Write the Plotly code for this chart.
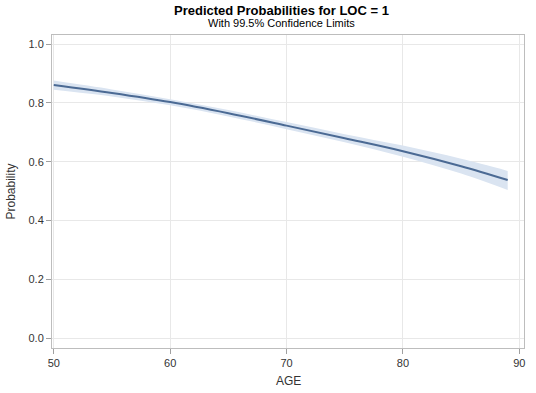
import plotly.graph_objects as go

age = [50, 55, 60, 65, 70, 75, 80, 85, 89]
prob = [0.861, 0.834, 0.803, 0.765, 0.723, 0.680, 0.636, 0.585, 0.538]
upper = [0.876, 0.846, 0.813, 0.776, 0.735, 0.694, 0.655, 0.610, 0.569]
lower = [0.845, 0.822, 0.792, 0.754, 0.711, 0.666, 0.617, 0.560, 0.504]

title_text = "Predicted Probabilities for LOC = 1"
subtitle_text = "With 99.5% Confidence Limits"
x_title = "AGE"
y_title = "Probability"
x_ticks = [50, 60, 70, 80, 90]
y_ticks = [0.0, 0.2, 0.4, 0.6, 0.8, 1.0]

fig = go.Figure()
fig.add_trace(go.Scatter(x=age, y=upper, mode="lines", line=dict(width=0, color="rgba(0,0,0,0)"),
                         hoverinfo="skip", showlegend=False, line_shape="spline"))
fig.add_trace(go.Scatter(x=age, y=lower, mode="lines", line=dict(width=0, color="rgba(0,0,0,0)"),
                         fill="tonexty", fillcolor="#DAE4F1", showlegend=False, line_shape="spline"))
fig.add_trace(go.Scatter(x=age, y=prob, mode="lines", line=dict(width=2, color="#4B6A94"),
                         showlegend=False, line_shape="spline"))

font = "Liberation Sans, Arial, sans-serif"
axis_common = dict(showline=True, linecolor="#BDBDBD", linewidth=1, mirror=True,
                   showgrid=True, gridcolor="#E8E8E8", gridwidth=1, zeroline=False,
                   ticks="outside", ticklen=5, tickcolor="#A0A0A0", automargin=False,
                   tickfont=dict(family=font, size=11, color="#333333"))

fig.update_layout(
    width=536, height=393,
    margin=dict(l=52, r=12, t=35, b=45),
    paper_bgcolor="white", plot_bgcolor="white",
    font=dict(family=font, color="#333333"),
    xaxis=dict(range=[49.85, 90.4], tickvals=x_ticks, ticktext=[str(v) for v in x_ticks],
               **axis_common),
    yaxis=dict(range=[-0.033, 1.031], tickvals=y_ticks, ticktext=[f"{v:.1f}" for v in y_ticks],
               **axis_common),
    annotations=[
        dict(text="<b>" + title_text + "</b>", x=0.487, y=1, xref="paper", yref="paper",
             yshift=25, showarrow=False, font=dict(family=font, size=13, color="#000000"),
             xanchor="center", yanchor="middle"),
        dict(text=subtitle_text, x=0.487, y=1, xref="paper", yref="paper",
             yshift=12, showarrow=False, font=dict(family=font, size=11, color="#000000"),
             xanchor="center", yanchor="middle"),
        dict(text=x_title, x=0.5, y=0, xref="paper", yref="paper", yshift=-33,
             showarrow=False, font=dict(family=font, size=12, color="#333333"),
             xanchor="center", yanchor="middle"),
        dict(text=y_title, x=0, y=0.5, xref="paper", yref="paper", xshift=-42,
             showarrow=False, textangle=-90, font=dict(family=font, size=12, color="#333333"),
             xanchor="center", yanchor="middle"),
    ],
)

fig.write_html("out.html", config={"displayModeBar": False},
               post_script="document.body.style.margin='0';")
